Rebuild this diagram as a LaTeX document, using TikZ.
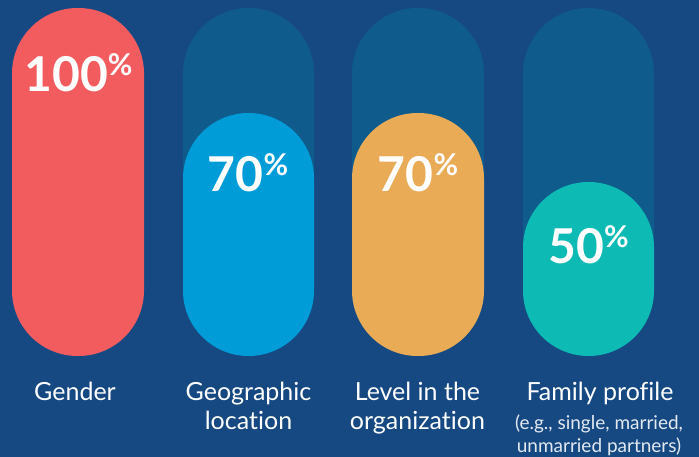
\documentclass[tikz,border=0pt]{standalone}
\usepackage{fontspec}
\setmainfont{Lato}[Ligatures=NoCommon]
\definecolor{bgblue}{HTML}{164982}
\definecolor{track}{HTML}{0F5C8C}
\definecolor{cred}{HTML}{F25C5F}
\definecolor{cblue}{HTML}{009CD8}
\definecolor{corange}{HTML}{E9AB55}
\definecolor{cteal}{HTML}{0DBAB4}
\newcommand\pctval[1]{{\fontsize{48}{50}\selectfont\bfseries #1}\raisebox{16pt}{\fontsize{30}{30}\selectfont\bfseries\%}}
\begin{document}
\begin{tikzpicture}[x=1pt,y=-1pt,
  pill/.style={rounded corners=65.5pt},
  pctlabel/.style={anchor=base,text=white,inner sep=0pt},
  catlabel/.style={anchor=base,text=white,inner sep=0pt,font=\fontsize{25}{30}\selectfont},
  sublabel/.style={anchor=base,text=white!88!bgblue,inner sep=0pt,font=\fontsize{19}{23}\selectfont}]
\fill[bgblue] (0,0) rectangle (699,457);
\useasboundingbox (0,0) rectangle (699,457);
% tracks
\fill[track,pill] (183,8) rectangle (314,356);
\fill[track,pill] (352,8) rectangle (484,356);
\fill[track,pill] (523,8) rectangle (654,356);
% bars
\fill[cred,pill] (12,8) rectangle (144,356);
\fill[cblue,pill] (183,113) rectangle (314,356);
\fill[corange,pill] (352,113) rectangle (484,356);
\fill[cteal,pill] (523,182) rectangle (654,356);
% values
\node[pctlabel] (v1) at (78.5,92) {\pctval{100}};
\node[pctlabel] (v2) at (248,192) {\pctval{70}};
\node[pctlabel] (v3) at (418,192) {\pctval{70}};
\node[pctlabel] (v4) at (588.5,263) {\pctval{50}};
% labels
\node[catlabel] (l1) at (75,400) {Gender};
\node[catlabel] (l2a) at (248.5,400) {Geographic};
\node[catlabel] (l2b) at (248.5,429) {location};
\node[catlabel] (l3a) at (417.5,400) {Level in the};
\node[catlabel] (l3b) at (417.5,429) {organization};
\node[catlabel] (l4a) at (600,400) {Family profile};
\node[sublabel] (l4b) at (599,429) {(e.g., single, married,};
\node[sublabel] (l4c) at (599,452) {unmarried partners)};
\end{tikzpicture}
\end{document}
